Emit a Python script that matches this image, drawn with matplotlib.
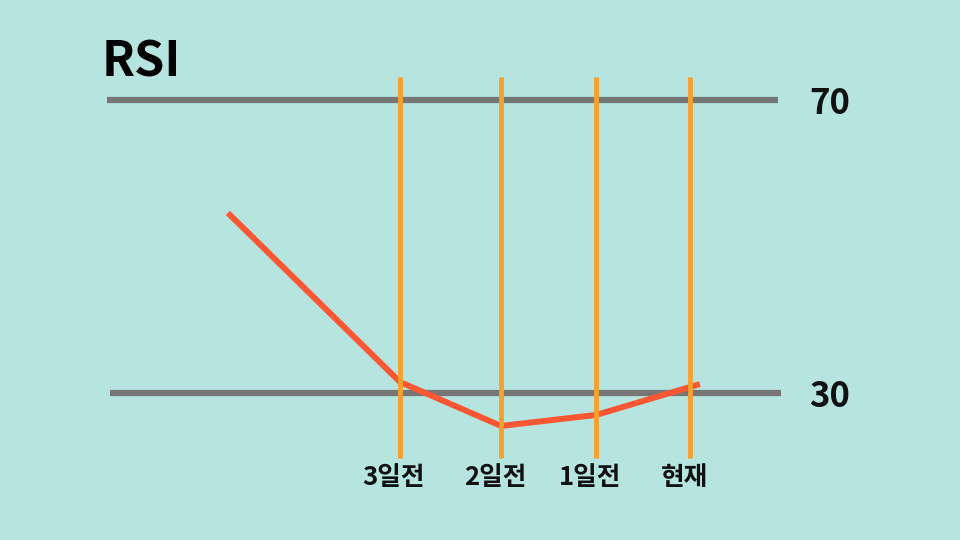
import matplotlib.pyplot as plt

plt.rcParams['font.family'] = ['Noto Sans CJK KR', 'DejaVu Sans']

# horizontal position scale (pixel-like units across the slide)
day_labels = ['3일전', '2일전', '1일전', '현재']
day_x = [400, 501, 596, 690]

# RSI line
rsi_x = [230, 400, 501, 596, 697]
rsi_y = [54.3, 31.5, 25.5, 27.0, 31.1]

levels = [70, 30]
level_spans = [(107, 778), (110, 781)]

bg = '#b6e5e0'
fig = plt.figure(figsize=(9.6, 5.4), dpi=100, facecolor=bg)
ax = fig.add_axes([0, 0, 1, 1])
ax.set_facecolor(bg)
ax.set_xlim(0, 960)
ax.set_ylim(9.93, 83.65)
ax.axis('off')

# overbought / oversold levels
for lv, (x0, x1) in zip(levels, level_spans):
    ax.plot([x0, x1], [lv, lv], color='#767676', lw=4.5, solid_capstyle='butt', zorder=1)
    ax.text(809, lv - 0.5, str(lv), fontsize=25, fontweight='bold', color='#111111',
            va='center', ha='left')

# rsi line
ax.plot(rsi_x, rsi_y, color='#ff5634', lw=4.3, solid_joinstyle='miter', zorder=2)

# day markers
for x, lab in zip(day_x, day_labels):
    ax.plot([x, x], [21.1, 73.1], color='#f7a02c', lw=3.5, solid_capstyle='butt', zorder=3)
    ax.text(x - 6, 18.5, lab, fontsize=18.5, fontweight='bold', color='#111111',
            ha='center', va='center')

ax.text(102, 75.2, 'RSI', fontsize=35, fontweight='bold', color='#000000',
        ha='left', va='center')

fig.savefig('out.png', dpi=100, facecolor=bg)
